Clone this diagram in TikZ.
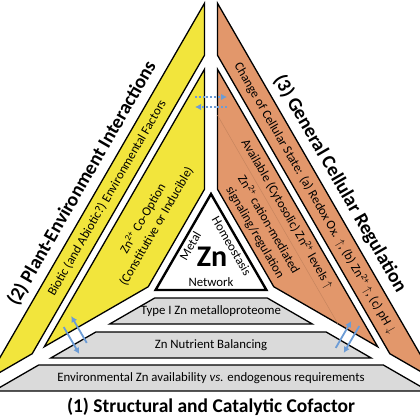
\documentclass[tikz,border=0pt]{standalone}
\usepackage{fontspec}
\setmainfont{Carlito}
\usetikzlibrary{arrows.meta}
\definecolor{ylw}{RGB}{242,229,60}
\definecolor{org}{RGB}{226,151,107}
\definecolor{gry}{RGB}{218,218,218}
\definecolor{blu}{RGB}{108,156,214}
\newcommand{\sqp}{\textsuperscript{2+}}
\begin{document}
\begin{tikzpicture}[x=1pt,y=1pt,
  band/.style={draw=black,line width=1.3pt,line join=miter},
  txt/.style={font=\fontsize{12.8}{15.5}\selectfont,inner sep=0pt,align=center},
  lbl/.style={font=\fontsize{19.5}{23}\selectfont\bfseries,inner sep=0pt},
  flow/.style={draw=blu,line width=1.8pt,-{Latex[length=6pt,width=6.5pt]}},
  dflow/.style={draw=blu,line width=1.5pt,dash pattern=on 2pt off 1.8pt,-{Latex[length=6pt,width=6.5pt]}}]
\useasboundingbox (0,0) rectangle (420,-420);
\fill[white] (0,0) rectangle (420,-420);
\begin{scope}
\clip (0,0) rectangle (420,-420);
% bottom sector (grey)
\begin{scope}[shift={(211,-258)}]
 \filldraw[band,fill=gry] (-217.36,-133) -- (217.36,-133) -- (172.32,-107) -- (-172.32,-107) -- cycle;
 \filldraw[band,fill=gry] (-160.2,-100) -- (160.2,-100) -- (115.17,-74) -- (-115.17,-74) -- cycle;
 \filldraw[band,fill=gry] (-101.31,-66) -- (101.31,-66) -- (56.28,-40) -- (-56.28,-40) -- cycle;
\end{scope}
% left sector (yellow)
\begin{scope}[shift={(211,-258)},rotate=-120]
 \filldraw[band,fill=ylw] (-217.36,-133) -- (217.36,-133) -- (172.32,-107) -- (-172.32,-107) -- cycle;
 \filldraw[band,fill=ylw] (-160.2,-100) -- (160.2,-100) -- (56.28,-40) -- (-56.28,-40) -- cycle;
\end{scope}
% right sector (orange)
\begin{scope}[shift={(211,-258)},rotate=120]
 \filldraw[band,fill=org] (-217.36,-133) -- (217.36,-133) -- (172.32,-107) -- (-172.32,-107) -- cycle;
 \filldraw[band,fill=org] (-160.2,-100) -- (160.2,-100) -- (56.28,-40) -- (-56.28,-40) -- cycle;
 \draw[org!88!black,line width=0.5pt] (-120.4,-77) -- (120.4,-77);
\end{scope}
\end{scope}
% texts
\begin{scope}[shift={(211,-258)}]
 \filldraw[fill=white,draw=black,line width=2.4pt,line join=miter] (90:64) -- (210:64) -- (330:64) -- cycle;
 \node[font=\fontsize{30}{30}\selectfont\bfseries,inner sep=0pt] (zn) at (1,1) {Zn};
 \node[txt] (net) at (270:24) {Network};
 \node[txt,rotate=60] (met) at (150:24) {Metal};
 \node[txt,rotate=-60] (hom) at (30:24) {Homeostasis};
 \node[txt] (t1) at (0,-120) {Environmental Zn availability \textit{vs.} endogenous requirements};
 \node[txt] (t2) at (0,-87) {Zn Nutrient Balancing};
 \node[txt] (t3) at (0,-53) {Type I Zn metalloproteome};
 \node[lbl] (l1) at (0,-149) {(1) Structural and Catalytic Cofactor};
 \node[txt,rotate=60] (y1) at (150:120) {Biotic (and Abiotic?) Environmental Factors};
 \node[txt,rotate=60] (y2) at (150:71) {Zn\sqp{} Co-Option\\(Constitutive or Inducible)};
 \node[lbl,rotate=60] (l2) at (150:149) {(2) Plant-Environment Interactions};
 \node[txt,rotate=-60] (o1) at (30:120) {Change of Cellular State: (a) Redox Ox. $\uparrow$, (b) Zn\sqp{} $\uparrow$, (c) pH $\downarrow$};
 \node[txt,rotate=-60] (o2) at (30:88) {Available (Cytosolic) Zn\sqp{} levels $\uparrow$};
 \node[txt,rotate=-60] (o3) at (30:59) {Zn\sqp{} cation-mediated\\signaling/regulation};
 \node[lbl,rotate=-60] (l3) at (30:149) {(3) General Cellular Regulation};
\end{scope}
% arrows
\coordinate (a1s) at (195,-97);   \coordinate (a1e) at (227,-97);
\coordinate (a2s) at (227,-107);  \coordinate (a2e) at (195,-107);
\coordinate (b1s) at (86.75,-342.9); \coordinate (b1e) at (71.25,-316.1);
\coordinate (b2s) at (63.75,-327.1); \coordinate (b2e) at (79.25,-353.9);
\coordinate (c1s) at (335.75,-347.9); \coordinate (c1e) at (351.25,-321.1);
\coordinate (c2s) at (359.25,-326.1); \coordinate (c2e) at (343.75,-352.9);
\draw[dflow] (a1s) -- (a1e);
\draw[dflow] (a2s) -- (a2e);
\draw[flow] (b1s) -- (b1e);
\draw[flow] (b2s) -- (b2e);
\draw[flow] (c1s) -- (c1e);
\draw[flow] (c2s) -- (c2e);
\end{tikzpicture}
\end{document}
